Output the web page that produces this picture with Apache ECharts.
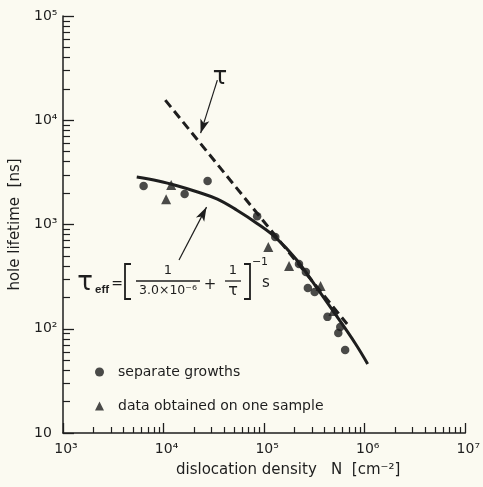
<!DOCTYPE html>
<html><head><meta charset="utf-8">
<script src="https://cdn.jsdelivr.net/npm/echarts@6/dist/echarts.min.js"></script>
<style>html,body{margin:0;padding:0;background:#fbfaf1}#c{width:483px;height:487px}</style>
</head><body><div id="c"></div>
<script>
// separate growths (circles)
const circlesN   = [6330, 16200, 27400, 85200, 129000, 222000, 260000, 272000, 318000, 426000, 571000, 546000, 639000];
const circlesTau = [2340, 1960, 2610, 1200, 757, 417, 350, 246, 225, 130, 104, 91, 62.5];
// data obtained on one sample (triangles)
const trianglesN   = [11900, 10600, 110000, 177000, 364000, 488000];
const trianglesTau = [2390, 1750, 607, 399, 257, 148];
// tau_eff fit curve (solid)
const fitN   = [5410, 8880, 13900, 21800, 34300, 53700, 84300, 132000, 207000, 325000, 510000, 800000, 1070000];
const fitTau = [2850, 2610, 2340, 2050, 1750, 1370, 1030, 741, 466, 257, 138, 73, 46];
// tau line (dashed)
const tauN   = [10400, 80500, 668000];
const tauVal = [15600, 1370, 111];
// axes
const xMajorTicks = [1e3, 1e4, 1e5, 1e6, 1e7];
const yMajorTicks = [10, 100, 1e3, 1e4, 1e5];
const xTickLabels = ['10³', '10⁴', '10⁵', '10⁶', '10⁷'];
const yTickLabels = ['10', '10²', '10³', '10⁴', '10⁵'];
const seriesNames = ['separate growths', 'data obtained on one sample'];

function minorOf(majors) {
  const out = [];
  for (let i = 0; i < majors.length - 1; i++)
    for (let m = 2; m <= 9; m++) out.push(m * majors[i]);
  return out;
}
const ink = '#1e1e1e';
const font = 'DejaVu Sans';
const pair = (a, b) => a.map((v, i) => [v, b[i]]);
const txt = (x, y, text, size, extra) => Object.assign({type: 'text', x: x, y: y,
  style: Object.assign({text: text, fontSize: size, fill: ink, fontFamily: font, align: 'center', verticalAlign: 'middle'}, extra || {})});

const chart = echarts.init(document.getElementById('c'), null, {renderer: 'canvas'});
chart.setOption({
  backgroundColor: '#fbfaf1',
  animation: false,
  grid: {left: 63, right: 11, top: 16, bottom: 54},
  legend: {
    orient: 'vertical', left: 90, top: 360, itemWidth: 9, itemHeight: 9, itemGap: 20,
    textStyle: {fontSize: 14, color: ink, fontFamily: font, padding: [0, 0, 0, 9]},
    data: [{name: seriesNames[0], icon: 'circle'}, {name: seriesNames[1], icon: 'triangle'}]
  },
  xAxis: [{
    type: 'log', logBase: 10, min: 1e3, max: 1e7,
    name: 'dislocation density   N  [cm⁻²]', nameLocation: 'middle', nameGap: 30,
    nameTextStyle: {fontSize: 15, color: ink, fontFamily: font, padding: [0, 0, 0, 48]},
    axisLine: {show: true, lineStyle: {color: ink, width: 1.5}},
    axisTick: {show: true, inside: true, length: 10, customValues: xMajorTicks, lineStyle: {color: ink, width: 1.3}},
    axisLabel: {customValues: xMajorTicks, margin: 9, fontSize: 14, color: ink, fontFamily: font,
      padding: [0, 0, 0, 6],
      formatter: v => xTickLabels[Math.round(Math.log10(v)) - 3]},
    splitLine: {show: false}
  }, {
    type: 'log', logBase: 10, min: 1e3, max: 1e7, position: 'bottom',
    axisLine: {show: false},
    axisTick: {show: true, inside: true, length: 6, customValues: minorOf(xMajorTicks), lineStyle: {color: ink, width: 1.2}},
    axisLabel: {show: false}, splitLine: {show: false}
  }],
  yAxis: [{
    type: 'log', logBase: 10, min: 10, max: 1e5,
    name: 'hole lifetime  [ns]', nameLocation: 'middle', nameGap: 37, nameRotate: 90,
    nameTextStyle: {fontSize: 15, color: ink, fontFamily: font},
    axisLine: {show: true, lineStyle: {color: ink, width: 1.5}},
    axisTick: {show: true, inside: true, length: 11, customValues: yMajorTicks, lineStyle: {color: ink, width: 1.3}},
    axisLabel: {customValues: yMajorTicks, margin: 29, align: 'left', fontSize: 14, color: ink, fontFamily: font,
      padding: [6, 0, 0, 0],
      formatter: v => yTickLabels[Math.round(Math.log10(v)) - 1]},
    splitLine: {show: false}
  }, {
    type: 'log', logBase: 10, min: 10, max: 1e5, position: 'left',
    axisLine: {show: false},
    axisTick: {show: true, inside: true, length: 7, customValues: minorOf(yMajorTicks), lineStyle: {color: ink, width: 1.2}},
    axisLabel: {show: false}, splitLine: {show: false}
  }],
  series: [{
    name: 'tau', type: 'line', data: pair(tauN, tauVal), showSymbol: false, symbol: 'none',
    lineStyle: {color: ink, width: 3, type: [9, 5]},
    markLine: {
      silent: true, symbolSize: [7, 14],
      lineStyle: {color: ink, width: 1.2, type: 'solid'},
      label: {show: false},
      data: [
        [{coord: [34250, 24240], symbol: 'none'}, {coord: [23360, 7520], symbol: 'arrow'}],
        [{coord: [14240, 456], symbol: 'none'}, {coord: [26740, 1468], symbol: 'arrow'}]
      ]
    }
  }, {
    name: 'fit', type: 'line', data: pair(fitN, fitTau), smooth: 0.4, showSymbol: false, symbol: 'none',
    lineStyle: {color: ink, width: 3}
  }, {
    name: seriesNames[0], type: 'scatter', data: pair(circlesN, circlesTau),
    symbol: 'circle', symbolSize: 8.5, itemStyle: {color: ink}
  }, {
    name: seriesNames[1], type: 'scatter', data: pair(trianglesN, trianglesTau),
    symbol: 'triangle', symbolSize: 10, itemStyle: {color: ink}
  }],
  graphic: [
    txt(220, 78, 'τ', 24),
    txt(85, 283, 'τ', 26),
    txt(95, 290, 'eff', 11.5, {align: 'left', fontWeight: 'bold', fontFamily: 'Liberation Sans'}),
    txt(117, 284, '=', 14),
    {type: 'polyline', shape: {points: [[131, 264], [125, 264], [125, 299], [131, 299]]}, style: {stroke: ink, lineWidth: 1.8, fill: null}},
    txt(168, 271, '1', 13),
    {type: 'line', shape: {x1: 136, y1: 281, x2: 200, y2: 281}, style: {stroke: ink, lineWidth: 1.3}},
    txt(168, 291, '3.0×10⁻⁶', 12.5),
    txt(210, 285, '+', 15),
    txt(233, 271, '1', 13),
    {type: 'line', shape: {x1: 225, y1: 281, x2: 241, y2: 281}, style: {stroke: ink, lineWidth: 1.3}},
    txt(233, 291, 'τ', 16),
    {type: 'polyline', shape: {points: [[244, 264], [250, 264], [250, 299], [244, 299]]}, style: {stroke: ink, lineWidth: 1.8, fill: null}},
    txt(260, 262, '−1', 11),
    txt(266, 283, 's', 15)
  ]
});
</script>
</body></html>
